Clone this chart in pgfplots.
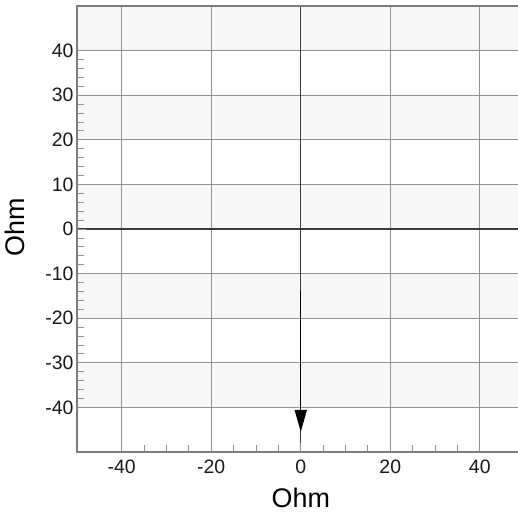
\documentclass[border=0pt]{standalone}
\usepackage{pgfplots}
\pgfplotsset{compat=1.18}
\usepackage{fontspec}
\setmainfont{Liberation Sans}
\usetikzlibrary{arrows.meta}
\definecolor{bandgray}{RGB}{247,247,247}
\definecolor{gridgray}{RGB}{145,145,145}
\definecolor{axisgray}{RGB}{125,125,125}
\definecolor{zerogray}{RGB}{60,60,60}
\begin{document}
\begin{tikzpicture}
\begin{axis}[
  set layers,
  scale only axis,
  width=442.6bp, height=446bp,
  xmin=-50, xmax=48.9,
  ymin=-50, ymax=50,
  xtick={-40,-20,0,20,40},
  ytick={-40,-30,-20,-10,0,10,20,30,40},
  minor x tick num=3,
  minor y tick num=4,
  xtick pos=left, ytick pos=left,
  tick align=inside,
  major tick length=9bp,
  minor tick length=7bp,
  tick style={gridgray, line width=0.8bp},
  grid=major,
  major grid style={gridgray, line width=0.8bp},
  axis line style={axisgray, line width=1.1bp},
  extra x ticks={0}, extra x tick labels={},
  extra y ticks={0}, extra y tick labels={},
  extra tick style={grid=major, major grid style={zerogray, line width=1.1bp}, major tick length=0pt},
  /pgf/number format/assume math mode=true,
  tick label style={font=\fontsize{19.5}{21}\selectfont, text=black!90},
  xticklabel style={yshift=-4bp},
  label style={font=\fontsize{27}{30}\selectfont, inner sep=0pt},
  xlabel={Ohm},
  ylabel={Ohm},
  xlabel style={at={(axis description cs:0.5057,0)}, anchor=base, yshift=-55.5bp},
  ylabel style={at={(axis description cs:-0.1175,0.503)}, anchor=base},
]
\addplot[on layer=axis background, draw=none, fill=bandgray] coordinates {(-50,40) (48.9,40) (48.9,50) (-50,50)} -- cycle;
\addplot[on layer=axis background, draw=none, fill=bandgray] coordinates {(-50,20) (48.9,20) (48.9,30) (-50,30)} -- cycle;
\addplot[on layer=axis background, draw=none, fill=bandgray] coordinates {(-50,0) (48.9,0) (48.9,10) (-50,10)} -- cycle;
\addplot[on layer=axis background, draw=none, fill=bandgray] coordinates {(-50,-20) (48.9,-20) (48.9,-10) (-50,-10)} -- cycle;
\addplot[on layer=axis background, draw=none, fill=bandgray] coordinates {(-50,-40) (48.9,-40) (48.9,-30) (-50,-30)} -- cycle;
\addplot[black, line width=1.4bp, -{Triangle[length=22bp,width=12bp]}] coordinates {(0,-14) (0,-45.5)};
\end{axis}
\pgfresetboundingbox
\path ([shift={(-77bp,-62bp)}]current axis.south west) rectangle ([shift={(-1.6bp,6bp)}]current axis.north east);
\end{tikzpicture}
\end{document}
